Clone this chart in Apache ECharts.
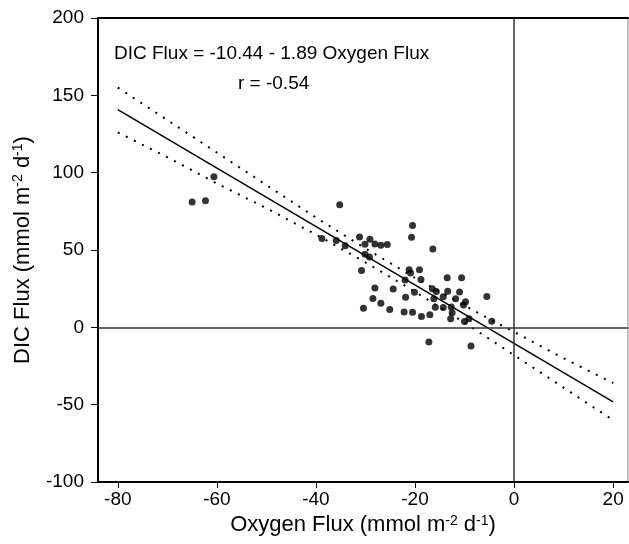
<!DOCTYPE html>
<html>
<head>
<meta charset="utf-8">
<script src="https://cdn.jsdelivr.net/npm/echarts@6/dist/echarts.min.js"></script>
<style>
  html, body { margin: 0; padding: 0; background: #fff; }
  #chart { width: 629px; height: 544px; }
</style>
</head>
<body>
<div id="chart"></div>
<script>
// 观测点 (Oxygen Flux, DIC Flux)
var oxygenFlux = [-65.0, -62.3, -60.6, -35.2, -20.5, -20.7, -38.8, -35.9, -34.1, -31.2,
  -29.1, -30.1, -28.1, -26.9, -25.6, -16.4, -30.1, -29.2, -30.8, -21.2,
  -20.9, -19.1, -22.0, -18.8, -13.5, -10.6, -28.1, -24.4, -20.1, -16.5,
  -15.7, -13.4, -11.0, -28.5, -21.9, -16.2, -14.3, -11.8, -9.8, -10.2,
  -5.5, -26.9, -30.4, -25.1, -22.2, -20.5, -18.7, -17.0, -15.9, -14.3,
  -12.7, -12.5, -12.8, -10.0, -9.1, -4.5, -17.2, -8.7];
var dicFlux = [81.0, 81.9, 97.4, 79.3, 65.9, 58.2, 57.5, 56.2, 52.8, 58.4,
  56.9, 53.7, 53.9, 53.0, 53.5, 50.6, 47.2, 45.5, 36.8, 37.3,
  35.1, 37.3, 30.6, 31.0, 32.1, 32.1, 25.4, 24.8, 22.7, 25.0,
  23.2, 23.4, 22.9, 18.7, 19.5, 18.4, 19.8, 18.4, 16.5, 14.4,
  20.0, 15.5, 12.3, 11.6, 9.9, 9.8, 7.0, 8.1, 13.0, 12.8,
  13.1, 9.4, 5.6, 3.8, 5.6, 4.0, -9.5, -12.1];

// 回归线 DIC = -10.44 - 1.89 * O2
var regX = [-80, 20];
var regY = [140.76, -48.24];

// 置信带
var bandX = [-80, -70, -60, -50, -40, -30, -20, -10, 0, 10, 20];
var bandUpper = [155, 134, 113, 92, 71, 51, 32, 14, -3, -20, -36];
var bandLower = [126, 110, 93, 77, 60, 42, 23, 3, -18, -39, -60];

var xTicks = [-80, -60, -40, -20, 0, 20];
var equationText = 'DIC Flux = -10.44 - 1.89 Oxygen Flux';
var rText = 'r = -0.54';

function zip(xs, ys) {
  return xs.map(function (x, i) { return [x, ys[i]]; });
}

var FONT = '"Liberation Sans", Arial, sans-serif';
var supRich = {
  sup: { fontSize: 14, fontFamily: FONT, color: '#000', verticalAlign: 'top', padding: [0, 0, 9, 0] }
};

var chart = echarts.init(document.getElementById('chart'));
var option = {
  animation: false,
  backgroundColor: '#fff',
  grid: {
    left: 98, right: 1, top: 18, bottom: 62,
    show: true, borderColor: '#888', borderWidth: 1
  },
  graphic: [
    { type: 'text', left: 114, top: 44, style: { text: equationText, font: '19px ' + FONT, fill: '#000' } },
    { type: 'text', left: 238, top: 74, style: { text: rText, font: '19px ' + FONT, fill: '#000' } }
  ],
  xAxis: [
    {
      type: 'value', min: -84, max: 23,
      splitLine: { show: false },
      axisLine: { onZero: false, lineStyle: { color: '#000', width: 2 } },
      axisTick: { customValues: xTicks, length: 6, lineStyle: { color: '#000' } },
      axisLabel: { customValues: xTicks, fontSize: 19, fontFamily: FONT, color: '#000', margin: 8 },
      name: 'Oxygen Flux (mmol m{sup|-2} d{sup|-1})',
      nameLocation: 'middle', nameGap: 27,
      nameTextStyle: { fontSize: 22, fontFamily: FONT, color: '#000', rich: supRich }
    },
    {
      type: 'value', position: 'top', min: -84, max: 23,
      splitLine: { show: false },
      axisLine: { onZero: false, lineStyle: { color: '#000', width: 2 } },
      axisTick: { show: false }, axisLabel: { show: false }
    }
  ],
  yAxis: {
    type: 'value', min: -100, max: 200, interval: 50,
    splitLine: { show: false },
    axisLine: { show: true, onZero: false, lineStyle: { color: '#000', width: 2 } },
    axisTick: { show: true, length: 7, lineStyle: { color: '#000' } },
    axisLabel: { fontSize: 19, fontFamily: FONT, color: '#000', margin: 14 },
    name: 'DIC Flux (mmol m{sup|-2} d{sup|-1})',
    nameLocation: 'middle', nameGap: 64,
    nameTextStyle: { fontSize: 22, fontFamily: FONT, color: '#000', rich: supRich }
  },
  series: [
    {
      type: 'line', data: zip(bandX, bandUpper), symbol: 'none',
      lineStyle: { color: '#000', width: 2, type: [2, 7] }, z: 3,
      markLine: {
        silent: true, symbol: 'none', label: { show: false },
        lineStyle: { color: '#333', width: 1.5, type: 'solid' },
        data: [{ xAxis: 0 }, { yAxis: 0 }]
      }
    },
    {
      type: 'line', data: zip(bandX, bandLower), symbol: 'none',
      lineStyle: { color: '#000', width: 2, type: [2, 7] }, z: 3
    },
    {
      type: 'line', data: zip(regX, regY), symbol: 'none',
      lineStyle: { color: '#000', width: 1.5 }, z: 4
    },
    {
      type: 'scatter', data: zip(oxygenFlux, dicFlux),
      symbol: 'circle', symbolSize: 7,
      itemStyle: { color: '#000' }, z: 5
    }
  ]
};
chart.setOption(option);
</script>
</body>
</html>
